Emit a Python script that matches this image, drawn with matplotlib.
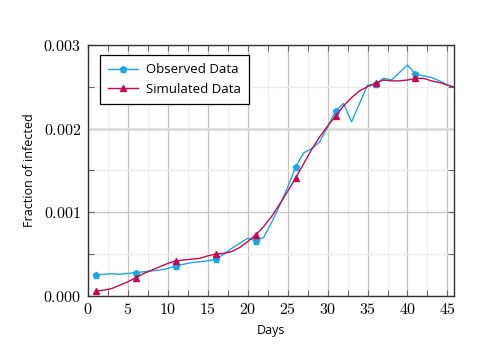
import matplotlib
matplotlib.use("Agg")
import matplotlib.pyplot as plt
from matplotlib.ticker import MultipleLocator, FuncFormatter

plt.rcParams["mathtext.fontset"] = "cm"

days = list(range(1, 47))

# fraction of infected, in units of 1e-3
observed = [0.25, 0.26, 0.265, 0.26, 0.27, 0.28, 0.29, 0.30, 0.31, 0.33,
            0.36, 0.38, 0.40, 0.41, 0.42, 0.44, 0.50, 0.57, 0.63, 0.69,
            0.66, 0.70, 0.88, 1.08, 1.30, 1.54, 1.71, 1.76, 1.84, 2.02,
            2.21, 2.30, 2.08, 2.30, 2.52, 2.53, 2.60, 2.58, 2.67, 2.76,
            2.65, 2.63, 2.61, 2.57, 2.52, 2.49]
simulated = [0.06, 0.07, 0.09, 0.13, 0.17, 0.22, 0.27, 0.31, 0.35, 0.39,
             0.42, 0.43, 0.44, 0.45, 0.48, 0.50, 0.51, 0.53, 0.58, 0.65,
             0.73, 0.83, 0.95, 1.10, 1.25, 1.41, 1.58, 1.75, 1.90, 2.03,
             2.15, 2.27, 2.37, 2.45, 2.50, 2.54, 2.58, 2.57, 2.57, 2.58,
             2.60, 2.60, 2.57, 2.55, 2.52, 2.49]
marker_days = [1, 6, 11, 16, 21, 26, 31, 36, 41]

obs = [v * 1e-3 for v in observed]
sim = [v * 1e-3 for v in simulated]
marks = [d - 1 for d in marker_days]

cyan = "#1aa7e4"
crimson = "#c20a4e"

fig = plt.figure(figsize=(4.89, 3.45), dpi=100)
ax = fig.add_axes([0.18, 0.142, 0.748, 0.728])

ax.plot(days, obs, color=cyan, lw=1.0, marker="p", markersize=5,
        markevery=marks, label="Observed Data", zorder=3)
ax.plot(days, sim, color=crimson, lw=1.0, marker="^", markersize=4.5,
        markevery=marks, label="Simulated Data", zorder=3)

ax.set_xlim(0, 45.8)
ax.set_ylim(0, 0.003)
ax.xaxis.set_major_locator(MultipleLocator(5))
ax.xaxis.set_minor_locator(MultipleLocator(2.5))
ax.yaxis.set_major_locator(MultipleLocator(0.001))
ax.yaxis.set_minor_locator(MultipleLocator(0.0005))
ax.xaxis.set_major_formatter(FuncFormatter(lambda v, p: "$%d$" % v))
ax.yaxis.set_major_formatter(FuncFormatter(lambda v, p: "$%.3f$" % v))

ax.grid(which="major", color="#c4c4c4", lw=0.9, zorder=0)
ax.grid(which="minor", color="#ececec", lw=0.9, zorder=0)
ax.axhline(0.002, color="#dadada", lw=1.8, zorder=1)
ax.set_axisbelow(True)

ax.tick_params(which="both", direction="in", top=True, right=True,
               length=4, width=0.8, color="#666666", labelsize=11.5)
ax.tick_params(axis="y", pad=5)
ax.tick_params(axis="x", pad=4)
for s in ax.spines.values():
    s.set_linewidth(1.0)
    s.set_color("#333333")

ax.set_xlabel("Days", family="Open Sans", fontsize=9, labelpad=5)
ax.set_ylabel("Fraction of infected", family="Open Sans", fontsize=9,
              labelpad=5)

leg = ax.legend(loc="upper left", bbox_to_anchor=(0.015, 0.985),
                prop={"family": "Open Sans", "size": 9.5}, fancybox=False,
                framealpha=1, edgecolor="black", handlelength=2.3,
                borderpad=0.6, labelspacing=0.5, numpoints=1,
                handletextpad=0.6)
leg.get_frame().set_linewidth(0.9)

fig.savefig("out.png", dpi=100)
